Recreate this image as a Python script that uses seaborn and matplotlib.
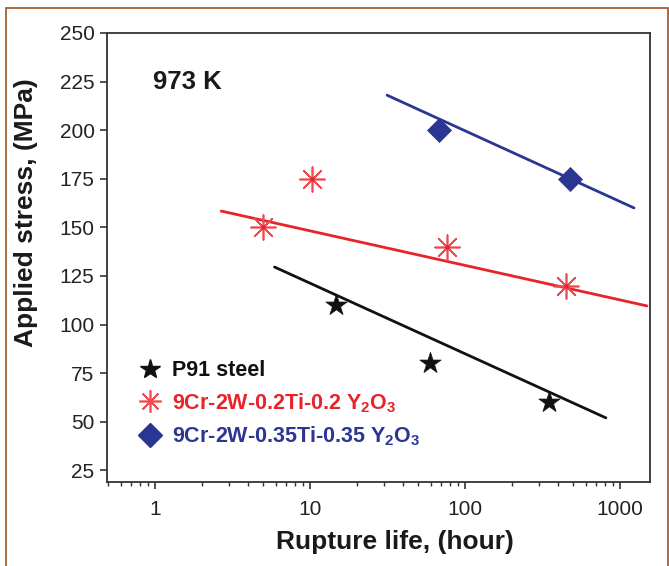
import numpy as np
import pandas as pd
import matplotlib
matplotlib.use("Agg")
import matplotlib.pyplot as plt
import seaborn as sns
from matplotlib.ticker import LogLocator, FixedLocator, NullFormatter
from matplotlib.lines import Line2D
from matplotlib.patches import Rectangle

# ---- data ----
p91_life = [14.7, 59.5, 350]
p91_stress = [110, 80, 60]
odsA_life = [5.0, 10.3, 77, 450]
odsA_stress = [150, 175, 140, 120]
odsB_life = [68, 475]
odsB_stress = [200, 175]

# fitted trend lines (end points)
p91_fit_life = [5.9, 810]
p91_fit_stress = [129.6, 52]
odsA_fit_life = [2.67, 1490]
odsA_fit_stress = [158.4, 109.6]
odsB_fit_life = [31.4, 1230]
odsB_fit_stress = [218, 160]

labels = ["P91 steel", "9Cr-2W-0.2Ti-0.2 Y$_2$O$_3$", "9Cr-2W-0.35Ti-0.35 Y$_2$O$_3$"]
yticks = [25, 50, 75, 100, 125, 150, 175, 200, 225, 250]
xticks = [1, 10, 100, 1000]
xticklabels = ["1", "10", "100", "1000"]

sns.set_theme(style="white")
plt.rcParams["font.family"] = ["Liberation Sans", "DejaVu Sans"]
plt.rcParams["mathtext.fontset"] = "custom"
plt.rcParams["mathtext.rm"] = "Liberation Sans:bold"
plt.rcParams["mathtext.bf"] = "Liberation Sans:bold"
plt.rcParams["mathtext.it"] = "Liberation Sans:bold"
plt.rcParams["mathtext.default"] = "bf"

BLACK = "#111111"
RED = "#e8242b"
RED_M = "#ee4b50"
BLUE = "#2b3592"

fig = plt.figure(figsize=(6.69, 5.66), dpi=100)
ax = fig.add_axes([0.160, 0.1484, 0.8116, 0.7933])

# frame around figure
fig.patches.append(Rectangle((6/669, -0.05), (669-6)/669 - 0.002, 1 - 8/566 + 0.05,
                             transform=fig.transFigure, fill=False,
                             edgecolor="#a0521e", linewidth=1.2, zorder=-1))

# lines
sns.lineplot(x=p91_fit_life, y=p91_fit_stress, ax=ax, color=BLACK, linewidth=2.0, legend=False)
sns.lineplot(x=odsA_fit_life, y=odsA_fit_stress, ax=ax, color=RED, linewidth=2.0, legend=False)
sns.lineplot(x=odsB_fit_life, y=odsB_fit_stress, ax=ax, color=BLUE, linewidth=2.0, legend=False)

# points
sns.scatterplot(x=p91_life, y=p91_stress, ax=ax, marker="*", s=260, color=BLACK,
                edgecolor=BLACK, linewidth=0.5, zorder=5, legend=False)
sns.scatterplot(x=odsA_life, y=odsA_stress, ax=ax, marker=(8, 2, 0), s=320, color=RED_M,
                edgecolor=RED_M, linewidth=1.2, zorder=5, legend=False)
sns.scatterplot(x=odsA_life, y=odsA_stress, ax=ax, marker="o", s=10, color=RED,
                linewidth=0, zorder=6, legend=False)
sns.scatterplot(x=odsB_life, y=odsB_stress, ax=ax, marker="D", s=150, color=BLUE,
                edgecolor=BLUE, linewidth=0.5, zorder=5, legend=False)

ax.set_xscale("log")
ax.set_xlim(0.49, 1560)
ax.set_ylim(19, 250)
ax.yaxis.set_major_locator(FixedLocator(yticks))
ax.set_yticklabels([str(v) for v in yticks])
ax.xaxis.set_major_locator(FixedLocator(xticks))
ax.set_xticklabels(xticklabels)
ax.xaxis.set_minor_locator(LogLocator(base=10, subs=np.arange(2, 10)))
ax.xaxis.set_minor_formatter(NullFormatter())

ax.tick_params(axis="both", which="major", direction="out", length=5, width=1.2,
               colors="#333333", labelcolor="#222222", labelsize=15, left=True, bottom=True)
ax.tick_params(axis="x", which="minor", direction="out", length=3, width=1.0,
               colors="#333333", bottom=True)
ax.tick_params(axis="x", pad=8)
ax.tick_params(axis="y", pad=4)

for sp in ax.spines.values():
    sp.set_color("#333333")
    sp.set_linewidth(1.3)
    sp.set_visible(True)

ax.set_xlabel("Rupture life, (hour)", fontsize=19, fontweight="bold", color="#1a1a1a")
ax.set_ylabel("Applied stress, (MPa)", fontsize=19, fontweight="bold", color="#1a1a1a")
ax.xaxis.set_label_coords(0.530, -0.108)
ax.yaxis.set_label_coords(-0.128, 0.599)

ax.text(0.085, 0.891, "973 K", transform=ax.transAxes, fontsize=18.5, fontweight="bold",
        color="#1a1a1a", ha="left", va="center")

handles = [
    Line2D([], [], linestyle="none", marker="*", markersize=15, color=BLACK),
    Line2D([], [], linestyle="none", marker=(8, 2, 0), markersize=16, color=RED_M, markeredgewidth=1.2),
    Line2D([], [], linestyle="none", marker="D", markersize=12, color=BLUE),
]
leg = ax.legend(handles, labels, loc="upper left", bbox_to_anchor=(0.03, 0.30),
                frameon=False, prop={"weight": "bold", "size": 15.5},
                handletextpad=0.35, labelspacing=0.45, handlelength=1.3, borderaxespad=0.2)
for t, c in zip(leg.get_texts(), [BLACK, RED, BLUE]):
    t.set_color(c)

fig.savefig("out.png", dpi=100, facecolor="white")
